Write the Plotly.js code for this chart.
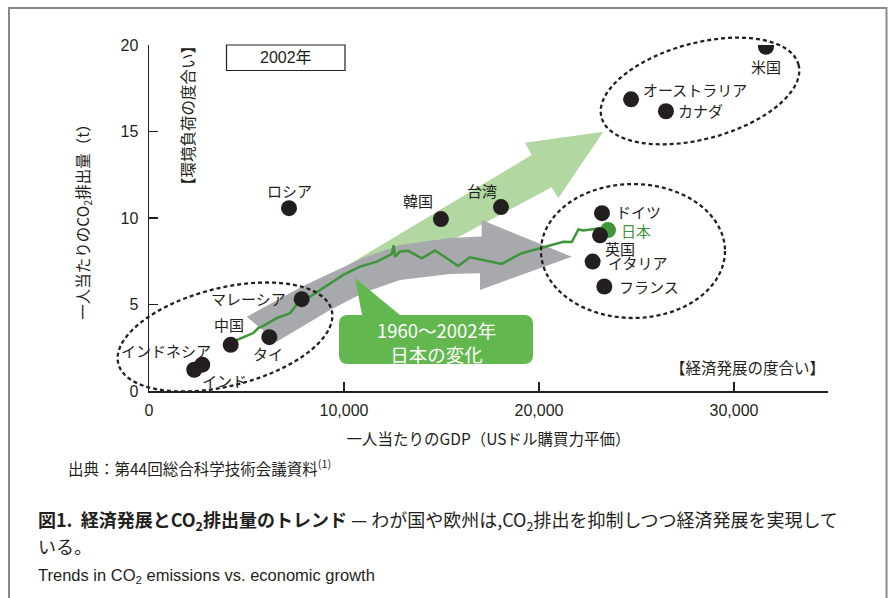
<!DOCTYPE html>
<html><head><meta charset="utf-8">
<script src="https://cdn.plot.ly/plotly-3.0.1.min.js"></script>
<style>html,body{margin:0;padding:0;background:#fff;}#chart{width:888px;height:598px;}</style>
</head><body><div id="chart"></div>
<script>
// ---- data (2002) ----
const countries = ["米国","オーストラリア","カナダ","ロシア","韓国","台湾","ドイツ","日本","英国","イタリア","フランス","マレーシア","中国","タイ","インドネシア","インド"];
const gdp = [31640, 24720, 26510, 7180, 14970, 18050, 23230, 23540, 23130, 22750, 23350, 7830, 4190, 6170, 2730, 2320];
const co2 = [19.9, 16.86, 16.17, 10.57, 9.94, 10.63, 10.28, 9.30, 9.00, 7.48, 6.04, 5.31, 2.67, 3.11, 1.52, 1.23];
// ---- Japan 1960-2002 trajectory ----
const japanGdp = [4320, 4920, 5350, 5600, 5860, 6550, 7230, 7570, 7830, 8260, 8770, 9280, 9960, 10820, 11680, 12190, 12450, 12550, 12620, 12870, 13300, 13990, 14670, 15270, 15850, 16460, 17320, 18090, 19080, 20100, 21250, 21680, 22020, 22270, 23130, 23540];
const japanCo2 = [2.86, 3.15, 3.35, 3.64, 3.77, 4.21, 4.50, 4.98, 5.26, 5.46, 5.85, 6.23, 6.71, 7.19, 7.48, 7.77, 7.92, 8.42, 7.77, 8.06, 8.10, 7.67, 8.12, 7.67, 7.23, 7.73, 7.52, 7.35, 7.95, 8.25, 8.63, 8.61, 9.34, 9.28, 9.41, 9.30];
// ---- ticks ----
const xTickVals = [0, 10000, 20000, 30000];
const xTickText = ["0", "10,000", "20,000", "30,000"];
const yTickVals = [0, 5, 10, 15, 20];
const yTickText = ["0", "5", "10", "15", "20"];

// ---- styling ----
const INK = "#231f20";
const JGREEN = "#3f953a";
const FONT = "Liberation Sans, Arial, Noto Sans CJK JP, sans-serif";
const JFONT = "Noto Sans CJK JP, sans-serif";
const labelStyle = {
  "米国": ["center", 0, -20], "オーストラリア": ["left", 10, 10], "カナダ": ["left", 10, 1],
  "ロシア": ["center", 0, 18], "韓国": ["center", -23, 19], "台湾": ["center", -19, 17],
  "ドイツ": ["left", 12, 2], "日本": ["left", 11, 0], "英国": ["center", 20, -13],
  "イタリア": ["left", 13, -1], "フランス": ["left", 13, 0], "マレーシア": ["right", -14, 1],
  "中国": ["center", -2, 20], "タイ": ["center", -1, -16], "インドネシア": ["right", 11, 14],
  "インド": ["left", 6, -11]
};

// pixel -> paper helpers for decorations
const L = 149, R = 828, T = 45, B = 391;
const px = x => (x - L) / (R - L);
const py = y => (B - y) / (B - T);
const poly = pts => "M" + pts.map(p => px(p[0]).toFixed(5) + "," + py(p[1]).toFixed(5)).join(" L") + " Z";
function ellipse(cx, cy, a, b, angDeg) {
  const t = angDeg * Math.PI / 180, pts = [];
  for (let i = 0; i < 96; i++) {
    const u = 2 * Math.PI * i / 96;
    const ex = a * Math.cos(u), ey = b * Math.sin(u);
    pts.push([cx + ex * Math.cos(t) - ey * Math.sin(t), cy + ex * Math.sin(t) + ey * Math.cos(t)]);
  }
  return poly(pts);
}
function roundRect(x0, y0, x1, y1, r) {
  const P = (x, y) => px(x).toFixed(5) + "," + py(y).toFixed(5);
  return "M" + P(x0 + r, y0) + " L" + P(x1 - r, y0) + " Q" + P(x1, y0) + " " + P(x1, y0 + r) +
    " L" + P(x1, y1 - r) + " Q" + P(x1, y1) + " " + P(x1 - r, y1) +
    " L" + P(x0 + r, y1) + " Q" + P(x0, y1) + " " + P(x0, y1 - r) +
    " L" + P(x0, y0 + r) + " Q" + P(x0, y0) + " " + P(x0 + r, y0) + " Z";
}

const shapes = [
  // light green arrow
  {type: "path", xref: "paper", yref: "paper", layer: "below", line: {width: 0}, fillcolor: "#b1d8a0",
   path: poly([[318, 283], [531.7, 155], [525, 142.7], [603.3, 131.7], [558.3, 198.3], [551.7, 187.3], [340, 300]])},
  // gray arrow
  {type: "path", xref: "paper", yref: "paper", layer: "below", line: {width: 0}, fillcolor: "#a7a9ac",
   path: poly([[246.7, 316.7], [303, 286], [363, 258], [400, 245], [450, 238], [481.7, 236.5], [481.7, 220],
               [571.7, 256.7], [480, 290], [480, 273.3], [450, 274], [400, 280], [363, 293], [330, 310], [276.7, 341.7]])},
  // callout
  {type: "path", xref: "paper", yref: "paper", layer: "below", line: {width: 0}, fillcolor: "#62b84f",
   path: roundRect(339, 315, 533, 364, 9)},
  {type: "path", xref: "paper", yref: "paper", layer: "below", line: {width: 0}, fillcolor: "#62b84f",
   path: poly([[355, 278], [363, 320], [406, 320]])},
  // dashed ellipses
  {type: "path", xref: "paper", yref: "paper", layer: "above", line: {color: INK, width: 2.3, dash: "4px,3px"},
   path: ellipse(700, 91, 102, 48, -15)},
  {type: "path", xref: "paper", yref: "paper", layer: "above", line: {color: INK, width: 2.3, dash: "4px,3px"},
   path: ellipse(633, 251, 92, 67, 0)},
  {type: "path", xref: "paper", yref: "paper", layer: "above", line: {color: INK, width: 2.3, dash: "4px,3px"},
   path: ellipse(225, 337, 110, 49, -14)},
  // 2002 box
  {type: "rect", xref: "paper", yref: "paper", layer: "above", line: {color: INK, width: 1.2},
   x0: px(226.5), x1: px(345), y0: py(45), y1: py(70.5)},
  // outer frame
  {type: "rect", xref: "paper", yref: "paper", layer: "above", line: {color: "#8a8a8a", width: 2},
   x0: px(9), x1: px(886.5), y0: py(8), y1: py(700)}
];

const annotations = countries.map((c, i) => {
  const s = labelStyle[c];
  return {x: gdp[i], y: co2[i], xref: "x", yref: "y", text: c, showarrow: false,
    xanchor: s[0], yanchor: "middle", xshift: s[1], yshift: s[2],
    font: {family: JFONT, size: 15, color: c === "日本" ? JGREEN : INK}};
});
const pa = (x, y, text, opts) => Object.assign({xref: "paper", yref: "paper", x: px(x), y: py(y), text: text,
  showarrow: false, xanchor: "left", yanchor: "middle", font: {family: JFONT, size: 15, color: INK}}, opts || {});
annotations.push(
  pa(436, 342, "1960～2002年<br>日本の変化", {xanchor: "center", font: {family: JFONT, size: 18.5, color: "#ffffff"}}),
  pa(286, 57.5, "2002年", {xanchor: "center", font: {family: FONT, size: 16, color: INK}}),
  pa(187, 116, "【環境負荷の度合い】", {xanchor: "center", textangle: -90, font: {family: JFONT, size: 15.5, color: INK}}),
  pa(827, 367, "【経済発展の度合い】", {xanchor: "right", font: {family: JFONT, size: 15.5, color: INK}}),
  pa(66, 467, "出典：第44回総合科学技術会議資料<sup>(1)</sup>", {font: {family: JFONT, size: 15.5, color: INK}}),
  pa(36, 520, "<b>図1.  経済発展とCO<sub>2</sub>排出量のトレンド</b> — わが国や欧州は,CO<sub>2</sub>排出を抑制しつつ経済発展を実現して", {font: {family: JFONT, size: 18, color: INK}}),
  pa(36, 546, "いる。", {font: {family: JFONT, size: 18, color: INK}}),
  pa(36, 576, "Trends in CO<sub>2</sub> emissions vs. economic growth", {font: {family: FONT, size: 16.5, color: INK}})
);

const traces = [
  {x: japanGdp, y: japanCo2, type: "scatter", mode: "lines", line: {color: JGREEN, width: 2.5}, hoverinfo: "skip"},
  {x: gdp, y: co2, text: countries, type: "scatter", mode: "markers",
   marker: {size: 16, color: countries.map(c => c === "日本" ? JGREEN : INK), line: {width: 0}}}
];

const axisCommon = {showgrid: false, zeroline: false, showline: true, linecolor: INK, linewidth: 1.5,
  ticks: "inside", ticklen: 9, tickwidth: 1.2, tickcolor: INK, automargin: false,
  tickfont: {family: FONT, size: 16, color: INK}};

const layout = {
  width: 888, height: 598,
  margin: {l: L, r: 888 - R, t: T, b: 598 - B},
  paper_bgcolor: "#ffffff", plot_bgcolor: "rgba(0,0,0,0)",
  showlegend: false,
  xaxis: Object.assign({}, axisCommon, {range: [0, (R - L) / 19.5 * 1000], tickvals: xTickVals, ticktext: xTickText,
    ticklabelstandoff: 4,
    title: {text: "一人当たりのGDP（USドル購買力平価）", font: {family: JFONT, size: 15.5, color: INK}, standoff: 16}}),
  yaxis: Object.assign({}, axisCommon, {range: [0, 20], tickvals: yTickVals, ticktext: yTickText,
    ticklabelstandoff: 6,
    title: {text: "一人当たりのCO<sub>2</sub>排出量（t）", font: {family: JFONT, size: 15.5, color: INK}, standoff: 27}}),
  shapes: shapes,
  annotations: annotations
};

Plotly.newPlot("chart", traces, layout, {displayModeBar: false, staticPlot: true});
</script></body></html>
